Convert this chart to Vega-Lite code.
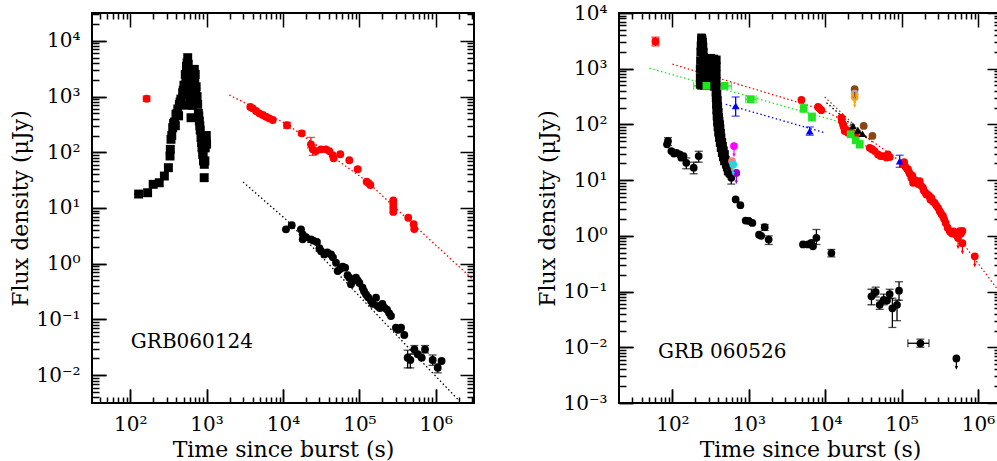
{
"$schema": "https://vega.github.io/schema/vega-lite/v6.json",
"background": "white",
"padding": {"left": 8, "top": 2, "right": 0, "bottom": 0},
"config": {"view": {"stroke": "black", "strokeWidth": 2}, "font": "DejaVu Serif"},
"spacing": 60,
"resolve": {"scale": {"x": "independent", "y": "independent"}},
"datasets": {
"L": [
{"s":"xflare","t":129,"f":17.8,"tlo":112,"thi":140},{"s":"xflare","t":169,"f":18.8},{"s":"xflare","t":200,"f":26.6},{"s":"xflare","t":240,"f":28.4},{"s":"xflare","t":280,"f":37.5},{"s":"xflare","t":316,"f":52.9},{"s":"xflare","t":332,"f":85.7},{"s":"xflare","t":335,"f":113},{"s":"xflare","t":342,"f":171},{"s":"xflare","t":350,"f":200},{"s":"xflare","t":360,"f":276},{"s":"xflare","t":370,"f":330},{"s":"xflare","t":380,"f":350},{"s":"xflare","t":390,"f":300},{"s":"xflare","t":397,"f":481},{"s":"xflare","t":410,"f":500},{"s":"xflare","t":420,"f":600},{"s":"xflare","t":430,"f":450},{"s":"xflare","t":440,"f":726},{"s":"xflare","t":450,"f":800},{"s":"xflare","t":460,"f":900},{"s":"xflare","t":470,"f":700},{"s":"xflare","t":486,"f":1172},{"s":"xflare","t":495,"f":1300},{"s":"xflare","t":505,"f":1600},{"s":"xflare","t":515,"f":1100},{"s":"xflare","t":526,"f":2512},{"s":"xflare","t":535,"f":2000},{"s":"xflare","t":545,"f":3500},{"s":"xflare","t":555,"f":4000},{"s":"xflare","t":560,"f":3000},{"s":"xflare","t":566,"f":4990},{"s":"xflare","t":575,"f":3800},{"s":"xflare","t":580,"f":2500},{"s":"xflare","t":590,"f":1443},{"s":"xflare","t":600,"f":1000},{"s":"xflare","t":600,"f":1800},{"s":"xflare","t":612,"f":700},{"s":"xflare","t":620,"f":1200},{"s":"xflare","t":625,"f":417},{"s":"xflare","t":640,"f":800},{"s":"xflare","t":650,"f":700},{"s":"xflare","t":655,"f":1500},{"s":"xflare","t":660,"f":1200},{"s":"xflare","t":670,"f":2300},{"s":"xflare","t":680,"f":2000},{"s":"xflare","t":690,"f":3080},{"s":"xflare","t":700,"f":1800},{"s":"xflare","t":710,"f":2500},{"s":"xflare","t":720,"f":1200},{"s":"xflare","t":730,"f":1500},{"s":"xflare","t":740,"f":900},{"s":"xflare","t":750,"f":1000},{"s":"xflare","t":764,"f":726},{"s":"xflare","t":780,"f":500},{"s":"xflare","t":790,"f":450},{"s":"xflare","t":803,"f":364},{"s":"xflare","t":815,"f":300},{"s":"xflare","t":825,"f":250},{"s":"xflare","t":845,"f":183},{"s":"xflare","t":860,"f":150},{"s":"xflare","t":870,"f":120},{"s":"xflare","t":889,"f":91.8},{"s":"xflare","t":900,"f":100},{"s":"xflare","t":910,"f":70},{"s":"xflare","t":933,"f":60.8},{"s":"xflare","t":930,"f":35},{"s":"xflare","t":950,"f":70},{"s":"xflare","t":960,"f":120},{"s":"xflare","t":970,"f":180},{"s":"xflare","t":982,"f":159},{"s":"xflare","t":990,"f":200},{"s":"xflare","t":1000,"f":140},
{"s":"red","t":164,"f":916,"lo":820,"hi":1020},{"s":"red","t":3733,"f":650},{"s":"red","t":4010,"f":615},{"s":"red","t":4436,"f":551},{"s":"red","t":4900,"f":500},{"s":"red","t":5420,"f":467},{"s":"red","t":5990,"f":435},{"s":"red","t":6620,"f":406},{"s":"red","t":7330,"f":379},{"s":"red","t":11270,"f":305,"lo":270,"hi":345},{"s":"red","t":17570,"f":219,"lo":200,"hi":240},{"s":"red","t":23200,"f":139,"lo":120,"hi":185},{"s":"red","t":24500,"f":113,"lo":88,"hi":135},{"s":"red","t":27000,"f":105},{"s":"red","t":31400,"f":113},{"s":"red","t":36500,"f":113},{"s":"red","t":40400,"f":105},{"s":"red","t":44700,"f":89},{"s":"red","t":46000,"f":78},{"s":"red","t":56200,"f":92},{"s":"red","t":73800,"f":72},{"s":"red","t":94900,"f":49.5},{"s":"red","t":124400,"f":29.6},{"s":"red","t":132000,"f":28},{"s":"red","t":139000,"f":25.9},{"s":"red","t":277500,"f":13.7},{"s":"red","t":277500,"f":12},{"s":"red","t":277500,"f":10.1},{"s":"red","t":277500,"f":8.5},{"s":"red","t":436000,"f":6.7},{"s":"red","t":513000,"f":5.1},{"s":"red","t":522000,"f":4.2},
{"s":"xray","t":10940,"f":4.14},{"s":"xray","t":13000,"f":4.89},{"s":"xray","t":17200,"f":4.14},{"s":"xray","t":18100,"f":3.37},{"s":"xray","t":18100,"f":2.74},{"s":"xray","t":20000,"f":3.0},{"s":"xray","t":23200,"f":2.74},{"s":"xray","t":25000,"f":2.6},{"s":"xray","t":27800,"f":2.45},{"s":"xray","t":30000,"f":1.9},{"s":"xray","t":31400,"f":1.69},{"s":"xray","t":34700,"f":1.47},{"s":"xray","t":38000,"f":1.6},{"s":"xray","t":42500,"f":1.47},{"s":"xray","t":45000,"f":1.3},{"s":"xray","t":49400,"f":1.04},{"s":"xray","t":52000,"f":0.74},{"s":"xray","t":56000,"f":0.8},{"s":"xray","t":60400,"f":0.88},{"s":"xray","t":65000,"f":0.85},{"s":"xray","t":70000,"f":0.62},{"s":"xray","t":73800,"f":0.56},{"s":"xray","t":77600,"f":0.43},{"s":"xray","t":82000,"f":0.5},{"s":"xray","t":90200,"f":0.56},{"s":"xray","t":95000,"f":0.5},{"s":"xray","t":100000,"f":0.45},{"s":"xray","t":110000,"f":0.37},{"s":"xray","t":115000,"f":0.32},{"s":"xray","t":122000,"f":0.28},{"s":"xray","t":130000,"f":0.25},{"s":"xray","t":142000,"f":0.214},{"s":"xray","t":150000,"f":0.19},{"s":"xray","t":165000,"f":0.245},{"s":"xray","t":173000,"f":0.174},{"s":"xray","t":185000,"f":0.16},{"s":"xray","t":200000,"f":0.19},{"s":"xray","t":212000,"f":0.162},{"s":"xray","t":230000,"f":0.15},{"s":"xray","t":245000,"f":0.13},{"s":"xray","t":259000,"f":0.115},{"s":"xray","t":301000,"f":0.071},{"s":"xray","t":320000,"f":0.065},{"s":"xray","t":351000,"f":0.071},{"s":"xray","t":387000,"f":0.0525},{"s":"xray","t":428000,"f":0.0206,"lo":0.0135,"hi":0.028},{"s":"xray","t":464000,"f":0.0187,"lo":0.0135,"hi":0.024},{"s":"xray","t":524000,"f":0.029,"lo":0.024,"hi":0.034},{"s":"xray","t":580000,"f":0.0237},{"s":"xray","t":654000,"f":0.0206},{"s":"xray","t":722000,"f":0.029,"lo":0.025,"hi":0.034},{"s":"xray","t":910000,"f":0.0187,"lo":0.015,"hi":0.023},{"s":"xray","t":1060000,"f":0.0136,"lo":0.011,"hi":0.016},{"s":"xray","t":1190000,"f":0.0179}
],
"LL": [
{"s":"red","t":1982,"f":1067},{"s":"red","t":11270,"f":318},{"s":"red","t":124400,"f":30.5},{"s":"red","t":277500,"f":10.9},{"s":"red","t":3162000,"f":0.5},
{"s":"xray","t":3000,"f":29.3},{"s":"xray","t":11500,"f":5.84},{"s":"xray","t":1940000,"f":0.00368}
],
"R": [
{"s":"xflare","t":230,"f":520},{"s":"xflare","t":230,"f":700},{"s":"xflare","t":230,"f":1000},{"s":"xflare","t":232,"f":1400},{"s":"xflare","t":234,"f":2000},{"s":"xflare","t":236,"f":2600},{"s":"xflare","t":238,"f":3200},{"s":"xflare","t":240,"f":3600},{"s":"xflare","t":243,"f":3500},{"s":"xflare","t":246,"f":3300},{"s":"xflare","t":249,"f":3000},{"s":"xflare","t":252,"f":2500},{"s":"xflare","t":255,"f":2000},{"s":"xflare","t":258,"f":1600},{"s":"xflare","t":240,"f":500},{"s":"xflare","t":245,"f":700},{"s":"xflare","t":250,"f":1000},{"s":"xflare","t":250,"f":1400},{"s":"xflare","t":240,"f":2000},{"s":"xflare","t":245,"f":2600},
{"s":"xflare","t":262,"f":1500},{"s":"xflare","t":262,"f":1100},{"s":"xflare","t":262,"f":800},{"s":"xflare","t":262,"f":600},{"s":"xflare","t":262,"f":500},
{"s":"xflare","t":290,"f":1500},{"s":"xflare","t":290,"f":1100},{"s":"xflare","t":290,"f":800},{"s":"xflare","t":290,"f":600},{"s":"xflare","t":290,"f":500},
{"s":"xflare","t":320,"f":1550},{"s":"xflare","t":320,"f":1100},{"s":"xflare","t":320,"f":800},{"s":"xflare","t":320,"f":600},{"s":"xflare","t":320,"f":500},
{"s":"xflare","t":350,"f":1500},{"s":"xflare","t":350,"f":1100},{"s":"xflare","t":350,"f":800},{"s":"xflare","t":350,"f":600},{"s":"xflare","t":350,"f":480},
{"s":"xflare","t":377,"f":1450},{"s":"xflare","t":377,"f":1100},{"s":"xflare","t":377,"f":800},{"s":"xflare","t":377,"f":600},{"s":"xflare","t":377,"f":458},
{"s":"xflare","t":385,"f":350},{"s":"xflare","t":390,"f":270},{"s":"xflare","t":395,"f":210},{"s":"xflare","t":400,"f":165},{"s":"xflare","t":405,"f":135},{"s":"xflare","t":410,"f":115},{"s":"xflare","t":416,"f":100},{"s":"xflare","t":422,"f":85},{"s":"xflare","t":428,"f":70},{"s":"xflare","t":435,"f":58},{"s":"xflare","t":445,"f":48},{"s":"xflare","t":455,"f":41},{"s":"xflare","t":467,"f":34},{"s":"xflare","t":483,"f":29},{"s":"xflare","t":495,"f":23},{"s":"xflare","t":505,"f":19.2},{"s":"xflare","t":520,"f":17},{"s":"xflare","t":535,"f":14.5},
{"s":"xflare","t":370,"f":380},{"s":"xflare","t":372,"f":300},{"s":"xflare","t":375,"f":230},{"s":"xflare","t":378,"f":180},{"s":"xflare","t":382,"f":140},{"s":"xflare","t":387,"f":110},{"s":"xflare","t":393,"f":90},{"s":"xflare","t":400,"f":72},{"s":"xflare","t":410,"f":58},{"s":"xflare","t":420,"f":47},{"s":"xflare","t":432,"f":38},{"s":"xflare","t":447,"f":31},{"s":"xflare","t":462,"f":26},{"s":"xflare","t":478,"f":22},
{"s":"xray","t":87.5,"f":50,"lo":42,"hi":58},{"s":"xray","t":85,"f":44},{"s":"xray","t":97,"f":33.3},{"s":"xray","t":105,"f":30},{"s":"xray","t":113,"f":31},{"s":"xray","t":125,"f":29},{"s":"xray","t":131,"f":25.3},{"s":"xray","t":140,"f":27},{"s":"xray","t":152,"f":20.5,"lo":16,"hi":25},{"s":"xray","t":190,"f":16.7,"lo":13,"hi":21},{"s":"xray","t":221,"f":27,"lo":21,"hi":33},{"s":"xray","t":551,"f":12.7},{"s":"xray","t":590,"f":11,"lo":8.5,"hi":13},{"s":"xray","t":673,"f":4.5},{"s":"xray","t":776,"f":3.55},{"s":"xray","t":910,"f":1.88},{"s":"xray","t":1000,"f":1.85},{"s":"xray","t":1114,"f":1.71},{"s":"xray","t":1361,"f":1.05},{"s":"xray","t":1450,"f":1.0},{"s":"xray","t":1615,"f":1.43,"lo":1.25,"hi":1.6},{"s":"xray","t":1820,"f":0.86,"lo":0.7,"hi":1.0},{"s":"xray","t":5120,"f":0.7},{"s":"xray","t":5960,"f":0.7},{"s":"xray","t":6590,"f":0.745},{"s":"xray","t":6920,"f":0.65},{"s":"xray","t":7670,"f":0.92,"lo":0.7,"hi":1.3},{"s":"xray","t":12050,"f":0.49,"lo":0.42,"hi":0.57},{"s":"xray","t":40300,"f":0.082,"lo":0.058,"hi":0.11},{"s":"xray","t":45800,"f":0.098,"lo":0.08,"hi":0.12},{"s":"xray","t":51700,"f":0.058,"lo":0.048,"hi":0.07},{"s":"xray","t":58300,"f":0.071,"lo":0.058,"hi":0.09},{"s":"xray","t":64400,"f":0.069},{"s":"xray","t":69800,"f":0.09,"lo":0.075,"hi":0.11},{"s":"xray","t":75700,"f":0.05,"lo":0.0227,"hi":0.076},{"s":"xray","t":87100,"f":0.058,"lo":0.03,"hi":0.07},{"s":"xray","t":92500,"f":0.1035,"lo":0.07,"hi":0.15},{"s":"xray","t":176000,"f":0.0118,"lo":0.01,"hi":0.014,"tlo":121000,"thi":228000},{"s":"xray","t":521000,"f":0.0063,"lim":true},
{"s":"red","t":60,"f":3080,"lo":2560,"hi":3690,"tlo":55,"thi":66},{"s":"red","t":4880,"f":275},{"s":"red","t":8050,"f":206},{"s":"red","t":8400,"f":195},{"s":"red","t":8900,"f":180},{"s":"red","t":16300,"f":132},{"s":"red","t":16500,"f":115},{"s":"red","t":17100,"f":100},{"s":"red","t":17500,"f":90},{"s":"red","t":18000,"f":76},{"s":"red","t":19000,"f":80},{"s":"red","t":19900,"f":71},{"s":"red","t":21000,"f":75},{"s":"red","t":23000,"f":70},{"s":"red","t":25000,"f":65},{"s":"red","t":38200,"f":38},{"s":"red","t":41000,"f":36},{"s":"red","t":44400,"f":33.3},{"s":"red","t":49100,"f":29},{"s":"red","t":53000,"f":27},{"s":"red","t":57100,"f":27},{"s":"red","t":63200,"f":25.4},{"s":"red","t":66000,"f":29},{"s":"red","t":70000,"f":26},{"s":"red","t":104500,"f":19.2},{"s":"red","t":108000,"f":21},{"s":"red","t":112000,"f":17.5},{"s":"red","t":118000,"f":16},{"s":"red","t":121400,"f":15.6},{"s":"red","t":125000,"f":14},{"s":"red","t":128000,"f":13},{"s":"red","t":134000,"f":11},{"s":"red","t":138000,"f":12},{"s":"red","t":141000,"f":8.95},{"s":"red","t":145000,"f":10},{"s":"red","t":150000,"f":10},{"s":"red","t":155000,"f":9.5},{"s":"red","t":160000,"f":9},{"s":"red","t":165000,"f":8.5},{"s":"red","t":172500,"f":9.6},{"s":"red","t":180000,"f":8},{"s":"red","t":190700,"f":7.3},{"s":"red","t":195000,"f":6.5},{"s":"red","t":205000,"f":6},{"s":"red","t":211000,"f":5.5},{"s":"red","t":220000,"f":5.5},{"s":"red","t":230000,"f":5.2},{"s":"red","t":238000,"f":4.5},{"s":"red","t":245600,"f":4.8},{"s":"red","t":255000,"f":4.2},{"s":"red","t":271000,"f":3.9},{"s":"red","t":285000,"f":3.5},{"s":"red","t":300000,"f":3.18},{"s":"red","t":315500,"f":2.77},{"s":"red","t":330000,"f":2.5},{"s":"red","t":348500,"f":2.25},{"s":"red","t":360000,"f":2},{"s":"red","t":377600,"f":1.71},{"s":"red","t":400000,"f":1.4},{"s":"red","t":426600,"f":1.21},{"s":"red","t":445000,"f":1.15},{"s":"red","t":460000,"f":1.1},{"s":"red","t":480000,"f":1.2},{"s":"red","t":496000,"f":1.13},{"s":"red","t":520000,"f":1.05},{"s":"red","t":548000,"f":0.916,"lim":true},{"s":"red","t":575000,"f":1.21},{"s":"red","t":600000,"f":1.1},{"s":"red","t":625000,"f":1.23},{"s":"red","t":625000,"f":0.74,"lim":true},{"s":"red","t":906000,"f":0.43,"lim":true},
{"s":"green","t":279,"f":492,"tlo":190,"thi":412},{"s":"green","t":483,"f":492,"tlo":412,"thi":592},{"s":"green","t":1059,"f":283,"lo":250,"hi":320,"tlo":910,"thi":1250},{"s":"green","t":5220,"f":195,"lo":165,"hi":230},{"s":"green","t":6710,"f":136,"lo":115,"hi":160},{"s":"green","t":21600,"f":66.5},{"s":"green","t":25100,"f":51.8},{"s":"green","t":28300,"f":44,"lo":38,"hi":51},
{"s":"blue","t":673,"f":215,"lo":141,"hi":311},{"s":"blue","t":6270,"f":76,"lo":64,"hi":90},{"s":"blue","t":94400,"f":22,"lo":17,"hi":28},
{"s":"blacktri","t":23100,"f":93.8},{"s":"blacktri","t":26900,"f":78.5},{"s":"blacktri","t":30700,"f":68},
{"s":"brown","t":24300,"f":429,"lim":true},{"s":"brown","t":31900,"f":93.8},{"s":"brown","t":41500,"f":62},
{"s":"gray","t":24300,"f":357,"lim":true},
{"s":"orange","t":24300,"f":312,"lim":true},
{"s":"magenta","t":640,"f":41,"lim":true},
{"s":"salmon","t":603,"f":22,"lim":true},
{"s":"cyan","t":625,"f":19,"lim":true},
{"s":"purple","t":687,"f":13.5,"lim":true}
],
"RL": [
{"s":"red","t":100,"f":1208},{"s":"red","t":9000,"f":185},{"s":"red","t":16000,"f":125},{"s":"red","t":100000,"f":21},{"s":"red","t":2000000,"f":0.091},
{"s":"green","t":50,"f":1023},{"s":"green","t":14000,"f":115},{"s":"green","t":38000,"f":36},
{"s":"blue","t":499,"f":230},{"s":"blue","t":9840,"f":71},
{"s":"brown","t":9840,"f":312},{"s":"brown","t":42300,"f":46.9},
{"s":"xray","t":10400,"f":246},{"s":"xray","t":36300,"f":54}
]
},
"hconcat": [
{
"width": 382, "height": 390,
"resolve": {"axis": {"x": "independent", "y": "independent"}},
"layer": [
{"data": {"name": "L"}, "mark": {"type": "point", "opacity": 0},
 "encoding": {
  "x": {"field": "t", "type": "quantitative", "scale": {"type": "log", "domain": [31.62, 3162278], "nice": false},
   "axis": {"orient": "bottom", "zindex": 1, "values": [40,50,60,70,80,90,100,200,300,400,500,600,700,800,900,1000,2000,3000,4000,5000,6000,7000,8000,9000,10000,20000,30000,40000,50000,60000,70000,80000,90000,100000,200000,300000,400000,500000,600000,700000,800000,900000,1000000,2000000,3000000],
    "labelExpr": "abs(log(datum.value)/LN10 - round(log(datum.value)/LN10)) < 0.01 ? ['10⁻³','10⁻²','10⁻¹','10⁰','10¹','10²','10³','10⁴','10⁵','10⁶'][round(log(datum.value)/LN10)+3] : ''",
    "ticks": false, "domain": false, "grid": true, "gridColor": "black", "gridOpacity": 1, "gridWidth": 1.5,
    "gridDash": {"condition": {"test": "abs(log(datum.value)/LN10 - round(log(datum.value)/LN10)) < 0.01", "value": [14, 362, 14, 1000]}, "value": [6, 378, 6, 1000]},
    "labelPadding": 11, "labelFlush": false, "labelOverlap": false, "labelBound": false, "labelFont": "DejaVu Serif", "labelFontSize": 20, "labelColor": "black",
    "title": "Time since burst (s)", "titleFont": "DejaVu Serif", "titleFontSize": 22, "titleFontWeight": "normal", "titleColor": "black", "titlePadding": 5}},
  "y": {"field": "f", "type": "quantitative", "scale": {"type": "log", "domain": [0.003162, 31623], "nice": false},
   "axis": {"orient": "left", "zindex": 1, "values": [0.004,0.005,0.006,0.007,0.008,0.009,0.01,0.02,0.03,0.04,0.05,0.06,0.07,0.08,0.09,0.1,0.2,0.3,0.4,0.5,0.6,0.7,0.8,0.9,1,2,3,4,5,6,7,8,9,10,20,30,40,50,60,70,80,90,100,200,300,400,500,600,700,800,900,1000,2000,3000,4000,5000,6000,7000,8000,9000,10000,20000,30000],
    "labelExpr": "abs(log(datum.value)/LN10 - round(log(datum.value)/LN10)) < 0.01 ? ['10⁻³','10⁻²','10⁻¹','10⁰','10¹','10²','10³','10⁴','10⁵','10⁶'][round(log(datum.value)/LN10)+3] : ''",
    "ticks": false, "domain": false, "grid": true, "gridColor": "black", "gridOpacity": 1, "gridWidth": 1.5,
    "gridDash": {"condition": {"test": "abs(log(datum.value)/LN10 - round(log(datum.value)/LN10)) < 0.01", "value": [14, 354, 14, 1000]}, "value": [7, 368, 7, 1000]},
    "labelPadding": 12, "labelFlush": false, "labelOverlap": false, "labelBound": false, "labelFont": "DejaVu Serif", "labelFontSize": 20, "labelColor": "black",
    "title": "Flux density (μJy)", "titleFont": "DejaVu Serif", "titleFontSize": 22, "titleFontWeight": "normal", "titleColor": "black", "titlePadding": 3}}
 }},
{"data": {"name": "L"}, "mark": {"type": "point", "opacity": 0},
 "encoding": {
  "x": {"field": "t", "type": "quantitative", "scale": {"type": "log", "domain": [31.62, 3162278], "nice": false},
   "axis": {"orient": "bottom", "zindex": 1, "values": [100, 1000, 10000, 100000, 1000000], "labels": false, "ticks": true, "tickSize": -14, "tickWidth": 1.5, "tickColor": "black", "domain": false, "grid": false, "title": null}},
  "y": {"field": "f", "type": "quantitative", "scale": {"type": "log", "domain": [0.003162, 31623], "nice": false},
   "axis": {"orient": "left", "zindex": 1, "values": [0.01, 0.1, 1, 10, 100, 1000, 10000], "labels": false, "ticks": true, "tickSize": -14, "tickWidth": 1.5, "tickColor": "black", "domain": false, "grid": false, "title": null}}
 }},
{"data": {"name": "LL"}, "mark": {"type": "line", "strokeDash": [1.5, 2.5], "strokeWidth": 1.3, "clip": true},
 "encoding": {
  "x": {"field": "t", "type": "quantitative", "scale": {"type": "log", "domain": [31.62, 3162278], "nice": false}, "axis": null},
  "y": {"field": "f", "type": "quantitative", "scale": {"type": "log", "domain": [0.003162, 31623], "nice": false}, "axis": null},
  "color": {"field": "s", "type": "nominal", "legend": null, "scale": {"domain": ["xflare","xray","red","green","blue","blacktri","magenta","salmon","cyan","purple","brown","gray","orange"], "range": ["#000000","#000000","#ff0000","#1ee61e","#0000ff","#000000","#ff00ff","#f08080","#00e5ee","#9400d3","#8b4513","#a9a9a9","#ffa500"]}}
 }},
{"data": {"name": "L"}, "transform": [{"filter": "isValid(datum.lo)"}], "mark": {"type": "rule", "strokeWidth": 1.3},
 "encoding": {
  "x": {"field": "t", "type": "quantitative", "scale": {"type": "log", "domain": [31.62, 3162278], "nice": false}, "axis": null},
  "y": {"field": "lo", "type": "quantitative", "scale": {"type": "log", "domain": [0.003162, 31623], "nice": false}, "axis": null},
  "y2": {"field": "hi"},
  "color": {"field": "s", "type": "nominal", "legend": null, "scale": {"domain": ["xflare","xray","red","green","blue","blacktri","magenta","salmon","cyan","purple","brown","gray","orange"], "range": ["#000000","#000000","#ff0000","#1ee61e","#0000ff","#000000","#ff00ff","#f08080","#00e5ee","#9400d3","#8b4513","#a9a9a9","#ffa500"]}}
 }},
{"data": {"name": "L"}, "transform": [{"filter": "isValid(datum.lo)"}, {"fold": ["lo", "hi"], "as": ["k", "v"]}], "mark": {"type": "tick", "orient": "horizontal", "size": 8, "thickness": 1.3},
 "encoding": {
  "x": {"field": "t", "type": "quantitative", "scale": {"type": "log", "domain": [31.62, 3162278], "nice": false}, "axis": null},
  "y": {"field": "v", "type": "quantitative", "scale": {"type": "log", "domain": [0.003162, 31623], "nice": false}, "axis": null},
  "color": {"field": "s", "type": "nominal", "legend": null, "scale": {"domain": ["xflare","xray","red","green","blue","blacktri","magenta","salmon","cyan","purple","brown","gray","orange"], "range": ["#000000","#000000","#ff0000","#1ee61e","#0000ff","#000000","#ff00ff","#f08080","#00e5ee","#9400d3","#8b4513","#a9a9a9","#ffa500"]}}
 }},
{"data": {"name": "L"}, "transform": [{"filter": "isValid(datum.tlo)"}], "mark": {"type": "rule", "strokeWidth": 1.3},
 "encoding": {
  "x": {"field": "tlo", "type": "quantitative", "scale": {"type": "log", "domain": [31.62, 3162278], "nice": false}, "axis": null},
  "x2": {"field": "thi"},
  "y": {"field": "f", "type": "quantitative", "scale": {"type": "log", "domain": [0.003162, 31623], "nice": false}, "axis": null},
  "color": {"field": "s", "type": "nominal", "legend": null, "scale": {"domain": ["xflare","xray","red","green","blue","blacktri","magenta","salmon","cyan","purple","brown","gray","orange"], "range": ["#000000","#000000","#ff0000","#1ee61e","#0000ff","#000000","#ff00ff","#f08080","#00e5ee","#9400d3","#8b4513","#a9a9a9","#ffa500"]}}
 }},
{"data": {"name": "L"}, "transform": [{"filter": "datum.s === 'xflare'"}], "mark": {"type": "point", "filled": true, "opacity": 1, "size": 80, "shape": "square", "clip": true},
 "encoding": {
  "x": {"field": "t", "type": "quantitative", "scale": {"type": "log", "domain": [31.62, 3162278], "nice": false}, "axis": null},
  "y": {"field": "f", "type": "quantitative", "scale": {"type": "log", "domain": [0.003162, 31623], "nice": false}, "axis": null},
  "color": {"value": "#000000"}
 }},
{"data": {"name": "L"}, "transform": [{"filter": "datum.s !== 'xflare'"}], "mark": {"type": "point", "filled": true, "opacity": 1, "size": 62, "clip": true},
 "encoding": {
  "x": {"field": "t", "type": "quantitative", "scale": {"type": "log", "domain": [31.62, 3162278], "nice": false}, "axis": null},
  "y": {"field": "f", "type": "quantitative", "scale": {"type": "log", "domain": [0.003162, 31623], "nice": false}, "axis": null},
  "color": {"field": "s", "type": "nominal", "legend": null, "scale": {"domain": ["xflare","xray","red","green","blue","blacktri","magenta","salmon","cyan","purple","brown","gray","orange"], "range": ["#000000","#000000","#ff0000","#1ee61e","#0000ff","#000000","#ff00ff","#f08080","#00e5ee","#9400d3","#8b4513","#a9a9a9","#ffa500"]}}
 }},
{"data": {"values": [{"t": 102, "f": 0.04, "label": "GRB060124"}]}, "mark": {"type": "text", "align": "left", "baseline": "middle", "font": "DejaVu Serif", "fontSize": 20, "color": "black"},
 "encoding": {
  "x": {"field": "t", "type": "quantitative", "scale": {"type": "log", "domain": [31.62, 3162278], "nice": false}, "axis": null},
  "y": {"field": "f", "type": "quantitative", "scale": {"type": "log", "domain": [0.003162, 31623], "nice": false}, "axis": null},
  "text": {"field": "label"}
 }}
]
},
{
"width": 382, "height": 390,
"resolve": {"axis": {"x": "independent", "y": "independent"}},
"layer": [
{"data": {"name": "R"}, "mark": {"type": "point", "opacity": 0},
 "encoding": {
  "x": {"field": "t", "type": "quantitative", "scale": {"type": "log", "domain": [20, 2000000], "nice": false},
   "axis": {"orient": "bottom", "zindex": 1, "values": [30,40,50,60,70,80,90,100,200,300,400,500,600,700,800,900,1000,2000,3000,4000,5000,6000,7000,8000,9000,10000,20000,30000,40000,50000,60000,70000,80000,90000,100000,200000,300000,400000,500000,600000,700000,800000,900000,1000000],
    "labelExpr": "abs(log(datum.value)/LN10 - round(log(datum.value)/LN10)) < 0.01 ? ['10⁻³','10⁻²','10⁻¹','10⁰','10¹','10²','10³','10⁴','10⁵','10⁶'][round(log(datum.value)/LN10)+3] : ''",
    "ticks": false, "domain": false, "grid": true, "gridColor": "black", "gridOpacity": 1, "gridWidth": 1.5,
    "gridDash": {"condition": {"test": "abs(log(datum.value)/LN10 - round(log(datum.value)/LN10)) < 0.01", "value": [14, 362, 14, 1000]}, "value": [6, 378, 6, 1000]},
    "labelPadding": 11, "labelFlush": false, "labelOverlap": false, "labelBound": false, "labelFont": "DejaVu Serif", "labelFontSize": 20, "labelColor": "black",
    "title": "Time since burst (s)", "titleFont": "DejaVu Serif", "titleFontSize": 22, "titleFontWeight": "normal", "titleColor": "black", "titlePadding": 5}},
  "y": {"field": "f", "type": "quantitative", "scale": {"type": "log", "domain": [0.001, 10000], "nice": false},
   "axis": {"orient": "left", "zindex": 1, "values": [0.001,0.002,0.003,0.004,0.005,0.006,0.007,0.008,0.009,0.01,0.02,0.03,0.04,0.05,0.06,0.07,0.08,0.09,0.1,0.2,0.3,0.4,0.5,0.6,0.7,0.8,0.9,1,2,3,4,5,6,7,8,9,10,20,30,40,50,60,70,80,90,100,200,300,400,500,600,700,800,900,1000,2000,3000,4000,5000,6000,7000,8000,9000,10000],
    "labelExpr": "abs(log(datum.value)/LN10 - round(log(datum.value)/LN10)) < 0.01 ? ['10⁻³','10⁻²','10⁻¹','10⁰','10¹','10²','10³','10⁴','10⁵','10⁶'][round(log(datum.value)/LN10)+3] : ''",
    "ticks": false, "domain": false, "grid": true, "gridColor": "black", "gridOpacity": 1, "gridWidth": 1.5,
    "gridDash": {"condition": {"test": "abs(log(datum.value)/LN10 - round(log(datum.value)/LN10)) < 0.01", "value": [14, 354, 14, 1000]}, "value": [7, 368, 7, 1000]},
    "labelPadding": 12, "labelFlush": false, "labelOverlap": false, "labelBound": false, "labelFont": "DejaVu Serif", "labelFontSize": 20, "labelColor": "black",
    "title": "Flux density (μJy)", "titleFont": "DejaVu Serif", "titleFontSize": 22, "titleFontWeight": "normal", "titleColor": "black", "titlePadding": 3}}
 }},
{"data": {"name": "R"}, "mark": {"type": "point", "opacity": 0},
 "encoding": {
  "x": {"field": "t", "type": "quantitative", "scale": {"type": "log", "domain": [20, 2000000], "nice": false},
   "axis": {"orient": "bottom", "zindex": 1, "values": [100, 1000, 10000, 100000, 1000000], "labels": false, "ticks": true, "tickSize": -14, "tickWidth": 1.5, "tickColor": "black", "domain": false, "grid": false, "title": null}},
  "y": {"field": "f", "type": "quantitative", "scale": {"type": "log", "domain": [0.001, 10000], "nice": false},
   "axis": {"orient": "left", "zindex": 1, "values": [0.001, 0.01, 0.1, 1, 10, 100, 1000, 10000], "labels": false, "ticks": true, "tickSize": -14, "tickWidth": 1.5, "tickColor": "black", "domain": false, "grid": false, "title": null}}
 }},
{"data": {"name": "RL"}, "mark": {"type": "line", "strokeDash": [1.5, 2.5], "strokeWidth": 1.3, "clip": true},
 "encoding": {
  "x": {"field": "t", "type": "quantitative", "scale": {"type": "log", "domain": [20, 2000000], "nice": false}, "axis": null},
  "y": {"field": "f", "type": "quantitative", "scale": {"type": "log", "domain": [0.001, 10000], "nice": false}, "axis": null},
  "color": {"field": "s", "type": "nominal", "legend": null, "scale": {"domain": ["xflare","xray","red","green","blue","blacktri","magenta","salmon","cyan","purple","brown","gray","orange"], "range": ["#000000","#000000","#ff0000","#1ee61e","#0000ff","#000000","#ff00ff","#f08080","#00e5ee","#9400d3","#8b4513","#a9a9a9","#ffa500"]}}
 }},
{"data": {"name": "R"}, "transform": [{"filter": "isValid(datum.lo)"}], "mark": {"type": "rule", "strokeWidth": 1.3},
 "encoding": {
  "x": {"field": "t", "type": "quantitative", "scale": {"type": "log", "domain": [20, 2000000], "nice": false}, "axis": null},
  "y": {"field": "lo", "type": "quantitative", "scale": {"type": "log", "domain": [0.001, 10000], "nice": false}, "axis": null},
  "y2": {"field": "hi"},
  "color": {"field": "s", "type": "nominal", "legend": null, "scale": {"domain": ["xflare","xray","red","green","blue","blacktri","magenta","salmon","cyan","purple","brown","gray","orange"], "range": ["#000000","#000000","#ff0000","#1ee61e","#0000ff","#000000","#ff00ff","#f08080","#00e5ee","#9400d3","#8b4513","#a9a9a9","#ffa500"]}}
 }},
{"data": {"name": "R"}, "transform": [{"filter": "isValid(datum.lo)"}, {"fold": ["lo", "hi"], "as": ["k", "v"]}], "mark": {"type": "tick", "orient": "horizontal", "size": 8, "thickness": 1.3},
 "encoding": {
  "x": {"field": "t", "type": "quantitative", "scale": {"type": "log", "domain": [20, 2000000], "nice": false}, "axis": null},
  "y": {"field": "v", "type": "quantitative", "scale": {"type": "log", "domain": [0.001, 10000], "nice": false}, "axis": null},
  "color": {"field": "s", "type": "nominal", "legend": null, "scale": {"domain": ["xflare","xray","red","green","blue","blacktri","magenta","salmon","cyan","purple","brown","gray","orange"], "range": ["#000000","#000000","#ff0000","#1ee61e","#0000ff","#000000","#ff00ff","#f08080","#00e5ee","#9400d3","#8b4513","#a9a9a9","#ffa500"]}}
 }},
{"data": {"name": "R"}, "transform": [{"filter": "isValid(datum.tlo)"}], "mark": {"type": "rule", "strokeWidth": 1.3},
 "encoding": {
  "x": {"field": "tlo", "type": "quantitative", "scale": {"type": "log", "domain": [20, 2000000], "nice": false}, "axis": null},
  "x2": {"field": "thi"},
  "y": {"field": "f", "type": "quantitative", "scale": {"type": "log", "domain": [0.001, 10000], "nice": false}, "axis": null},
  "color": {"field": "s", "type": "nominal", "legend": null, "scale": {"domain": ["xflare","xray","red","green","blue","blacktri","magenta","salmon","cyan","purple","brown","gray","orange"], "range": ["#000000","#000000","#ff0000","#1ee61e","#0000ff","#000000","#ff00ff","#f08080","#00e5ee","#9400d3","#8b4513","#a9a9a9","#ffa500"]}}
 }},
{"data": {"name": "R"}, "transform": [{"filter": "isValid(datum.tlo)"}, {"fold": ["tlo", "thi"], "as": ["k", "v"]}], "mark": {"type": "tick", "orient": "vertical", "size": 8, "thickness": 1.3},
 "encoding": {
  "x": {"field": "v", "type": "quantitative", "scale": {"type": "log", "domain": [20, 2000000], "nice": false}, "axis": null},
  "y": {"field": "f", "type": "quantitative", "scale": {"type": "log", "domain": [0.001, 10000], "nice": false}, "axis": null},
  "color": {"field": "s", "type": "nominal", "legend": null, "scale": {"domain": ["xflare","xray","red","green","blue","blacktri","magenta","salmon","cyan","purple","brown","gray","orange"], "range": ["#000000","#000000","#ff0000","#1ee61e","#0000ff","#000000","#ff00ff","#f08080","#00e5ee","#9400d3","#8b4513","#a9a9a9","#ffa500"]}}
 }},
{"data": {"name": "R"}, "transform": [{"filter": "datum.s === 'xflare'"}], "mark": {"type": "point", "filled": true, "opacity": 1, "size": 70, "shape": "square", "clip": true},
 "encoding": {
  "x": {"field": "t", "type": "quantitative", "scale": {"type": "log", "domain": [20, 2000000], "nice": false}, "axis": null},
  "y": {"field": "f", "type": "quantitative", "scale": {"type": "log", "domain": [0.001, 10000], "nice": false}, "axis": null},
  "color": {"value": "#000000"}
 }},
{"data": {"name": "R"}, "transform": [{"filter": "datum.s !== 'xflare'"}], "mark": {"type": "point", "filled": true, "opacity": 1, "size": 60, "clip": true},
 "encoding": {
  "x": {"field": "t", "type": "quantitative", "scale": {"type": "log", "domain": [20, 2000000], "nice": false}, "axis": null},
  "y": {"field": "f", "type": "quantitative", "scale": {"type": "log", "domain": [0.001, 10000], "nice": false}, "axis": null},
  "color": {"field": "s", "type": "nominal", "legend": null, "scale": {"domain": ["xflare","xray","red","green","blue","blacktri","magenta","salmon","cyan","purple","brown","gray","orange"], "range": ["#000000","#000000","#ff0000","#1ee61e","#0000ff","#000000","#ff00ff","#f08080","#00e5ee","#9400d3","#8b4513","#a9a9a9","#ffa500"]}},
  "shape": {"field": "s", "type": "nominal", "legend": null, "scale": {"domain": ["xflare","xray","red","green","blue","blacktri","magenta","salmon","cyan","purple","brown","gray","orange"], "range": ["square","circle","circle","square","triangle-up","triangle-up","circle","circle","circle","circle","circle","circle","circle"]}}
 }},
{"data": {"name": "R"}, "transform": [{"filter": "datum.lim === true"}], "mark": {"type": "point", "shape": "arrow", "angle": 180, "filled": true, "opacity": 1, "size": 70, "yOffset": 7},
 "encoding": {
  "x": {"field": "t", "type": "quantitative", "scale": {"type": "log", "domain": [20, 2000000], "nice": false}, "axis": null},
  "y": {"field": "f", "type": "quantitative", "scale": {"type": "log", "domain": [0.001, 10000], "nice": false}, "axis": null},
  "color": {"field": "s", "type": "nominal", "legend": null, "scale": {"domain": ["xflare","xray","red","green","blue","blacktri","magenta","salmon","cyan","purple","brown","gray","orange"], "range": ["#000000","#000000","#ff0000","#1ee61e","#0000ff","#000000","#ff00ff","#f08080","#00e5ee","#9400d3","#8b4513","#a9a9a9","#ffa500"]}}
 }},
{"data": {"values": [{"t": 64.7, "f": 0.0082, "label": "GRB 060526"}]}, "mark": {"type": "text", "align": "left", "baseline": "middle", "font": "DejaVu Serif", "fontSize": 20, "color": "black"},
 "encoding": {
  "x": {"field": "t", "type": "quantitative", "scale": {"type": "log", "domain": [20, 2000000], "nice": false}, "axis": null},
  "y": {"field": "f", "type": "quantitative", "scale": {"type": "log", "domain": [0.001, 10000], "nice": false}, "axis": null},
  "text": {"field": "label"}
 }}
]
}
]
}
